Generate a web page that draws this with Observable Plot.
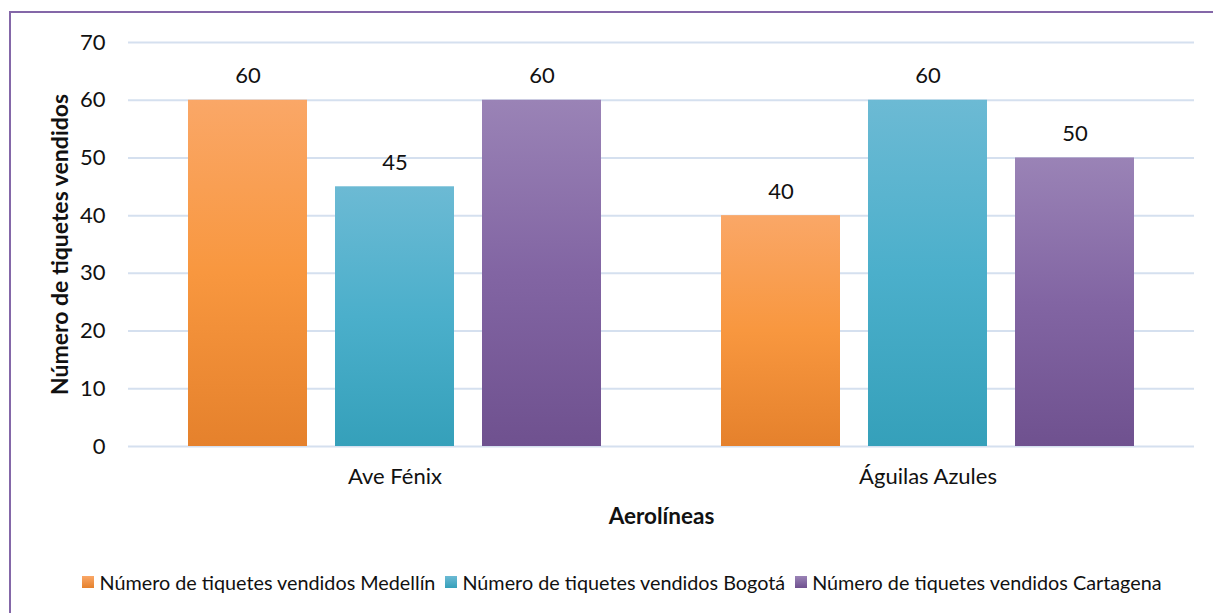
<!DOCTYPE html>
<html><head><meta charset="utf-8">
<script src="https://cdn.jsdelivr.net/npm/d3@7"></script>
<script src="https://cdn.jsdelivr.net/npm/@observablehq/plot@0.6"></script>
<style>
html,body{margin:0;padding:0;background:#fff;overflow:hidden;width:1213px;height:613px}
#frame{position:absolute;left:9px;top:11px;width:1260px;height:700px;border:2px solid #8467a8;box-sizing:border-box}
#chart{position:absolute;left:0;top:0}
#legend{position:absolute;left:0;top:570px;width:1244px;display:flex;justify-content:center;align-items:center;font-family:Lato,sans-serif;font-size:19.8px;color:#111;line-height:24px}
.item{display:flex;align-items:center;margin:0 5px}
.sw{width:12px;height:12px;margin-right:5px}
g[aria-label="y-axis label"] text{font-weight:bold;font-size:23px}
g[aria-label="fx-axis label"] text{font-weight:bold;font-size:22.5px}
</style></head><body>
<div id="frame"></div><div id="chart"></div><div id="legend"></div>
<script>
const airlines = ["Ave Fénix", "Águilas Azules"];
const seriesNames = [
  "Número de tiquetes vendidos Medellín",
  "Número de tiquetes vendidos Bogotá",
  "Número de tiquetes vendidos Cartagena"
];
const medellin = [60, 40];
const bogota = [45, 60];
const cartagena = [60, 50];
const yTicks = [0, 10, 20, 30, 40, 50, 60, 70];
const yTitle = "Número de tiquetes vendidos";
const xTitle = "Aerolíneas";
const gradientStops = [
  ["#FAA767", "#F8973F", "#E5812C"],
  ["#6CBAD4", "#4BAFCB", "#35A0BA"],
  ["#9A83B6", "#8265A3", "#6F518F"]
];

const seriesValues = [medellin, bogota, cartagena];
const data = [];
airlines.forEach((a, i) => seriesNames.forEach((s, j) => data.push({airline: a, series: s, idx: j, value: seriesValues[j][i]})));

const svg = Plot.plot({
  width: 1213,
  height: 540,
  marginTop: 42,
  marginBottom: 94,
  marginLeft: 127,
  marginRight: 19,
  style: {fontFamily: "Lato, sans-serif", fontSize: "22px", color: "#111", background: "transparent"},
  fx: {domain: airlines, padding: 0},
  x: {domain: seriesNames, paddingInner: 0.189, paddingOuter: 0.397, axis: null},
  y: {domain: [0, 70]},
  marks: [
    Plot.gridY(yTicks, {stroke: "#D5E0EF", strokeOpacity: 1, strokeWidth: 2}),
    ...seriesNames.map((s, j) => Plot.barY(data.filter(d => d.idx === j), {
      fx: "airline", x: "series", y: "value", fill: `url(#grad${j})`
    })),
    Plot.text(data, {fx: "airline", x: "series", y: "value", text: d => String(d.value), dy: -24, fontSize: 22, fill: "#111"}),
    Plot.axisY({ticks: yTicks, tickSize: 0, tickPadding: 23, fontSize: 22, label: yTitle, labelAnchor: "center", labelArrow: "none", labelOffset: 77}),
    Plot.axisFx({anchor: "bottom", tickSize: 0, tickPadding: 22, fontSize: 22, label: xTitle, labelAnchor: "center", labelArrow: "none", labelOffset: 77})
  ]
});

const defs = d3.select(svg).insert("defs", ":first-child");
gradientStops.forEach((stops, j) => {
  const g = defs.append("linearGradient").attr("id", `grad${j}`).attr("x1", 0).attr("y1", 0).attr("x2", 0).attr("y2", 1);
  g.append("stop").attr("offset", "0%").attr("stop-color", stops[0]);
  g.append("stop").attr("offset", "50%").attr("stop-color", stops[1]);
  g.append("stop").attr("offset", "100%").attr("stop-color", stops[2]);
});
document.getElementById("chart").appendChild(svg);

const legend = d3.select("#legend");
seriesNames.forEach((s, j) => {
  const item = legend.append("div").attr("class", "item");
  item.append("div").attr("class", "sw").style("background", `linear-gradient(${gradientStops[j][0]}, ${gradientStops[j][2]})`);
  item.append("span").text(s);
});
</script>
</body></html>
